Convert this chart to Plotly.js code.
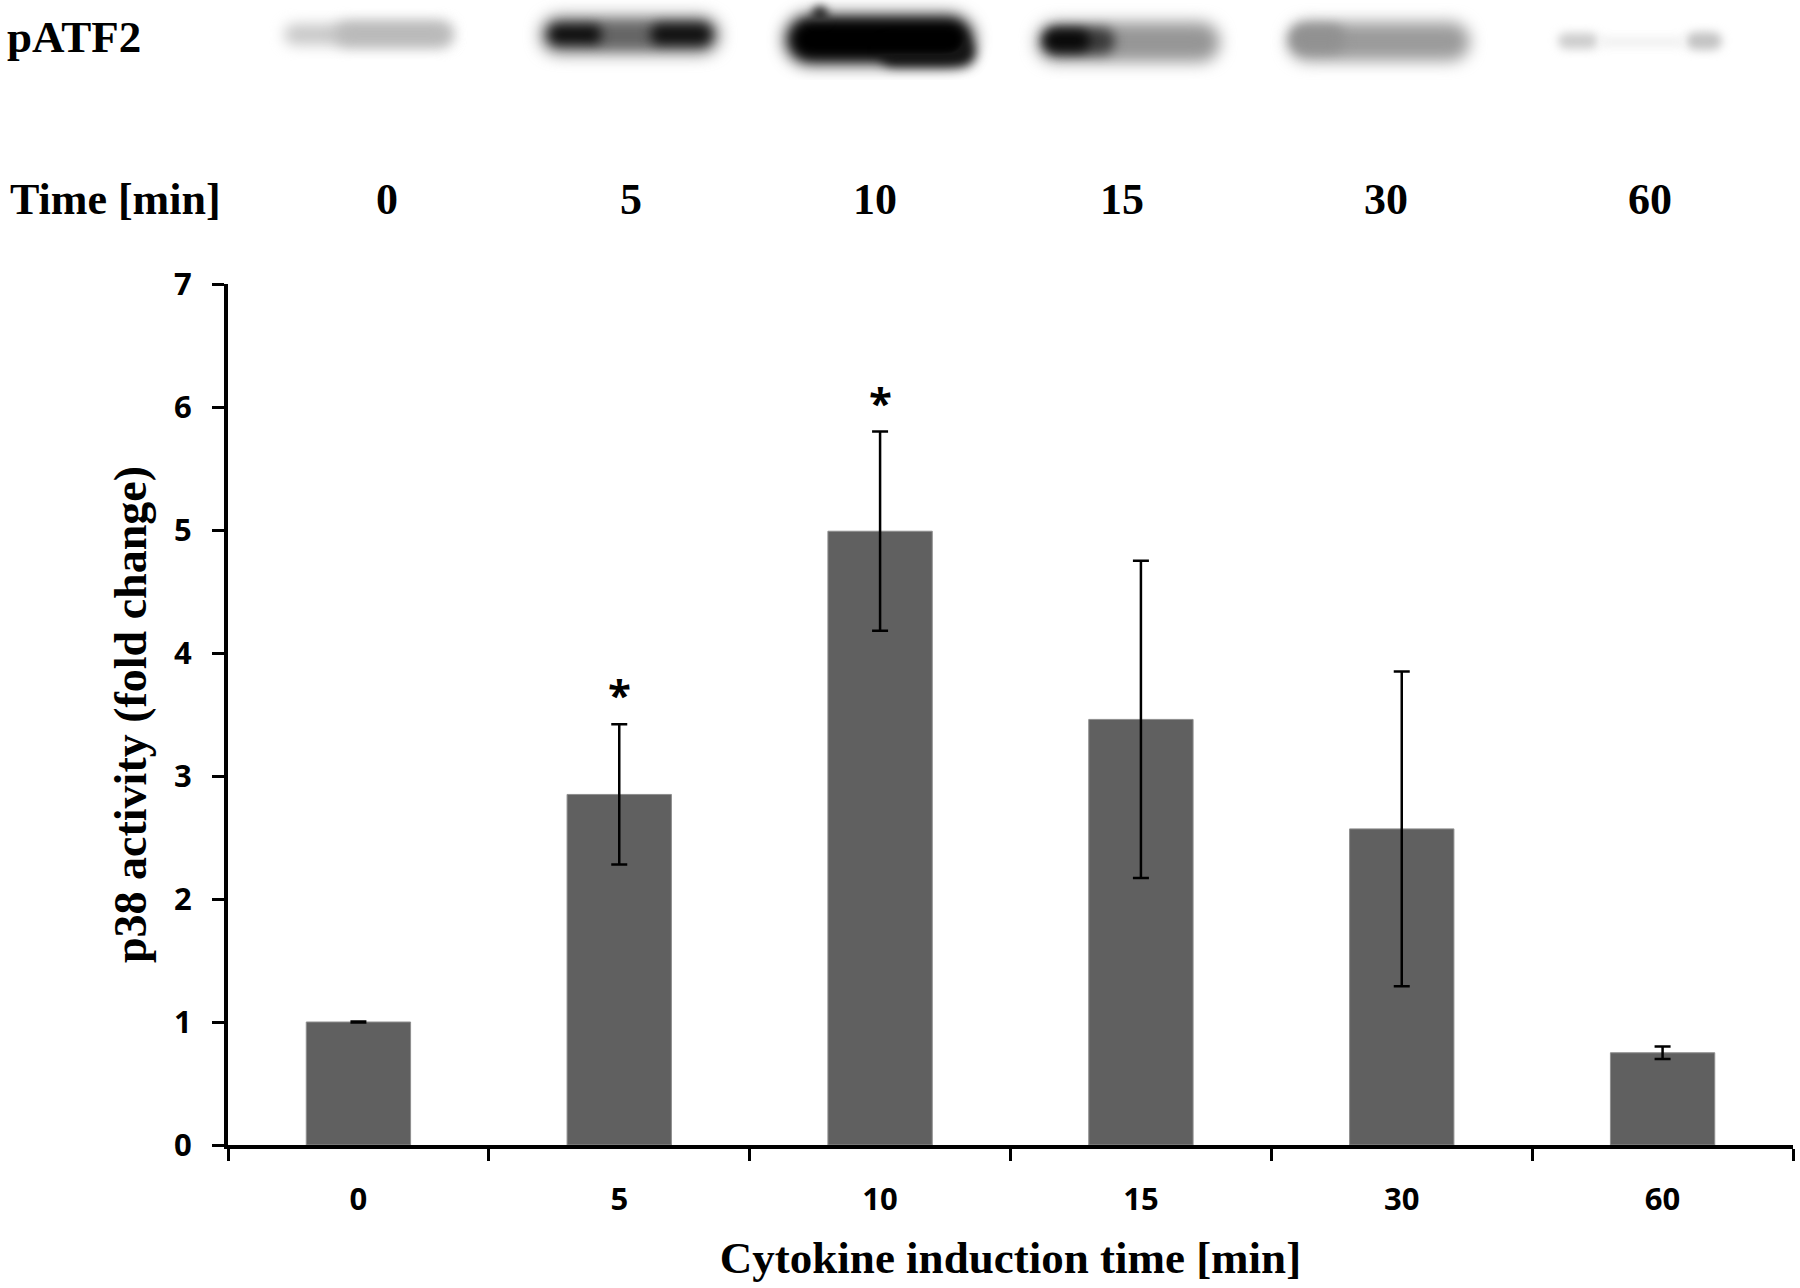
<!DOCTYPE html>
<html>
<head>
<meta charset="utf-8">
<script src="https://cdn.plot.ly/plotly-3.0.1.min.js"></script>
<style>
  html, body { margin: 0; padding: 0; background: #ffffff; }
  #chart { width: 1800px; height: 1288px; }
</style>
</head>
<body>
<div id="chart"></div>
<script>
// ---- data ----
const timeLabels   = ['0', '5', '10', '15', '30', '60'];
const meanFold     = [1.00, 2.85, 4.99, 3.46, 2.57, 0.75];
const errFold      = [0.005, 0.57, 0.81, 1.29, 1.28, 0.05];
const significant  = [false, true, true, false, false, false];
const blotLaneLabels = ['0', '5', '10', '15', '30', '60'];
const yTickVals    = [0, 1, 2, 3, 4, 5, 6, 7];

// ---- geometry of the figure ----
const W = 1800, H = 1288;
const M = { l: 228, r: 7, t: 284, b: 143 };
const PW = W - M.l - M.r, PH = H - M.t - M.b;
const px = x => (x - M.l) / PW;
const py = y => (M.t + PH - y) / PH;

// ---- western blot strip drawn on a canvas ----
function drawBlot() {
  const c = document.createElement('canvas');
  c.width = W; c.height = 80;
  const ctx = c.getContext('2d');
  ctx.fillStyle = '#ffffff';
  ctx.fillRect(0, 0, W, 80);
  ctx.globalCompositeOperation = 'darken';
  // [x0, x1, y0, y1, gray, blur]
  const blobs = [
    // lane 0
    [284, 452, 24, 45, 200, 7], [335, 452, 22, 46, 185, 7],
    // lane 5
    [540, 720, 16, 54, 130, 8], [590, 660, 25, 46, 100, 6],
    [548, 602, 24, 45, 15, 6], [650, 712, 23, 46, 18, 6],
    // lane 10
    [784, 975, 14, 65, 60, 8], [792, 968, 21, 58, 0, 6],
    [812, 828, 6, 24, 50, 4], [880, 975, 40, 66, 20, 6],
    // lane 15
    [1036, 1220, 22, 62, 150, 8], [1044, 1115, 28, 54, 60, 6],
    [1044, 1090, 30, 51, 8, 6],
    // lane 30
    [1288, 1470, 22, 61, 155, 8], [1290, 1345, 25, 52, 145, 6],
    // lane 60
    [1558, 1598, 33, 49, 205, 5], [1686, 1722, 32, 50, 195, 5],
    [1598, 1686, 37, 47, 240, 5]
  ];
  blobs.forEach(b => {
    const [x0, x1, y0, y1, g, bl] = b;
    ctx.filter = 'blur(' + bl + 'px)';
    ctx.fillStyle = 'rgb(' + g + ',' + g + ',' + g + ')';
    ctx.beginPath();
    const r = (y1 - y0) / 2;
    if (ctx.roundRect) { ctx.roundRect(x0, y0, x1 - x0, y1 - y0, r); }
    else { ctx.rect(x0, y0, x1 - x0, y1 - y0); }
    ctx.fill();
  });
  return c.toDataURL('image/png');
}

const serif = 'Liberation Serif, Times New Roman, serif';
const sans = 'Open Sans, Lato, sans-serif';

const trace = {
  type: 'bar',
  x: timeLabels,
  y: meanFold,
  marker: { color: '#606060', line: { color: '#8e8e8e', width: 1 } },
  error_y: { type: 'data', array: errFold, visible: true, color: '#000000', thickness: 2.5, width: 8 },
  hoverinfo: 'x+y'
};

const annotations = [];
// asterisks above significant bars (x given as category index)
timeLabels.forEach((t, i) => {
  if (significant[i]) {
    annotations.push({
      xref: 'x', yref: 'y', x: i, y: meanFold[i] + errFold[i],
      text: '*', showarrow: false, yanchor: 'bottom',
      font: { family: sans, size: 42, color: '#000000', weight: 700 }
    });
  }
});
// blot label rows
annotations.push({
  xref: 'paper', yref: 'paper', x: px(5), y: py(37), xanchor: 'left', yanchor: 'middle',
  text: '<b>pATF2</b>', showarrow: false, font: { family: serif, size: 45, color: '#000000' }
});
annotations.push({
  xref: 'paper', yref: 'paper', x: px(8), y: py(200), xanchor: 'left', yanchor: 'middle',
  text: '<b>Time [min]</b>', showarrow: false, font: { family: serif, size: 44, color: '#000000' }
});
const laneCentersPx = [387, 631, 875, 1122, 1386, 1650];
blotLaneLabels.forEach((lab, i) => {
  annotations.push({
    xref: 'paper', yref: 'paper', x: px(laneCentersPx[i]), y: py(200), xanchor: 'center', yanchor: 'middle',
    text: '<b>' + lab + '</b>', showarrow: false, font: { family: serif, size: 44, color: '#000000' }
  });
});

const layout = {
  width: W, height: H,
  margin: M,
  paper_bgcolor: '#ffffff', plot_bgcolor: '#ffffff',
  showlegend: false,
  bargap: 0.6,
  xaxis: {
    type: 'category', range: [-0.5, timeLabels.length - 0.5], autorange: false,
    showline: true, linecolor: '#000000', linewidth: 4,
    ticks: 'outside', tickson: 'boundaries', ticklen: 12, tickwidth: 3, tickcolor: '#000000',
    showgrid: false, zeroline: false,
    tickfont: { family: sans, size: 31, color: '#000000', weight: 700 },
    ticklabelstandoff: 24,
    title: { text: '<b>Cytokine induction time [min]</b>', font: { family: serif, size: 45, color: '#000000' }, standoff: 24 }
  },
  yaxis: {
    range: [0, 7], autorange: false, tickvals: yTickVals, ticktext: yTickVals.map(String),
    showline: true, linecolor: '#000000', linewidth: 4,
    ticks: 'outside', ticklen: 12, tickwidth: 3, tickcolor: '#000000',
    showgrid: false, zeroline: false,
    tickfont: { family: sans, size: 31, color: '#000000', weight: 700 },
    ticklabelstandoff: 14,
    title: { text: '<b>p38 activity (fold change)</b>', font: { family: serif, size: 46, color: '#000000' }, standoff: 14 }
  },
  annotations: annotations,
  images: [{
    source: drawBlot(),
    xref: 'paper', yref: 'paper',
    x: px(0), y: py(0), sizex: W / PW, sizey: 80 / PH,
    xanchor: 'left', yanchor: 'top', sizing: 'stretch', layer: 'above'
  }]
};

Plotly.newPlot('chart', [trace], layout, { displayModeBar: false, responsive: false });
</script>
</body>
</html>
